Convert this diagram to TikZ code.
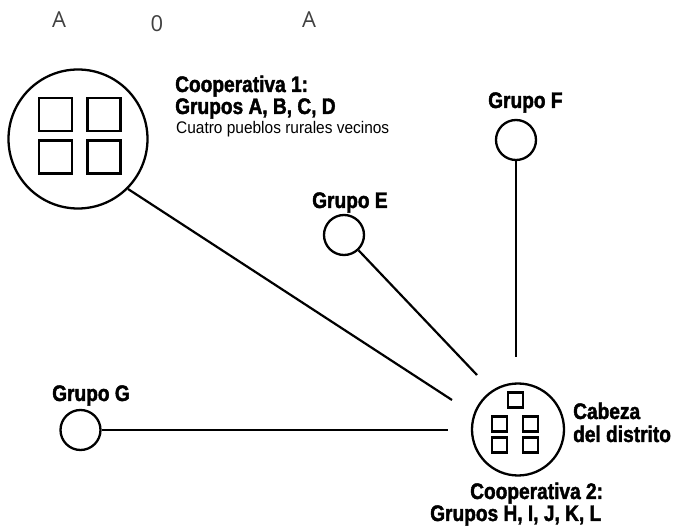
\documentclass[tikz,border=0pt]{standalone}
\usepackage{fontspec}
\setmainfont{Liberation Sans}
\newfontfamily\hb[FakeStretch=0.85,FakeBold=1.8]{Liberation Sans}
\newfontfamily\hr[FakeStretch=0.92]{Liberation Sans}
\newfontfamily\thin{Open Sans}
\usetikzlibrary{calc}
\begin{document}
\begin{tikzpicture}[x=1pt,y=-1pt,
  ring/.style={circle,draw,line width=2.3pt,inner sep=0pt},
  sq/.style={rectangle,draw,line width=2.4pt,inner sep=0pt},
  conn/.style={line width=2.2pt},
  heavy/.style={inner sep=0pt,anchor=base west,font=\hb\bfseries\fontsize{22.5}{24}\selectfont},
  light/.style={inner sep=0pt,anchor=base west,font=\hr\fontsize{16.8}{20}\selectfont},
  top/.style={inner sep=0pt,anchor=base,text=black!75,font=\thin\fontsize{22}{26}\selectfont}]
\useasboundingbox (0,0) rectangle (673,529);
% top letters
\node[top] (ta) at (59,28) {A};
\node[top] (tz) at (157,32) {0};
\node[top] (tb) at (309,28) {A};
% Cooperativa 1
\node[ring,minimum size=139pt] (coop1) at (78,139) {};
\node[sq,minimum size=33pt] (q1) at (55.5,114.5) {};
\node[sq,minimum size=33pt] (q2) at (104,114.5) {};
\node[sq,minimum size=33pt] (q3) at (55.5,157) {};
\node[sq,minimum size=33pt] (q4) at (104,157) {};
\node[heavy] (t1) at (175,92) {Cooperativa 1:};
\node[heavy] (t2) at (175,114) {Grupos A, B, C, D};
\node[light] (t3) at (176,134) {Cuatro pueblos rurales vecinos};
% groups
\node[ring,minimum size=40pt] (F) at (516,140) {};
\node[heavy] (tF) at (488,108) {Grupo F};
\node[ring,minimum size=40pt] (E) at (344,235) {};
\node[heavy] (tE) at (312,208) {Grupo E};
\node[ring,minimum size=40pt] (G) at (80.5,430) {};
\node[heavy] (tG) at (52,401) {Grupo G};
% district head
\node[ring,minimum size=92pt] (cab) at (518,429.5) {};
\node[sq,minimum size=15pt] (r1) at (515.5,400) {};
\node[sq,minimum size=15pt] (r2) at (499.5,424) {};
\node[sq,minimum size=15pt] (r3) at (530.5,424) {};
\node[sq,minimum size=15pt] (r4) at (499.5,445) {};
\node[sq,minimum size=15pt] (r5) at (530.5,445) {};
\node[heavy] (tc1) at (573,419) {Cabeza};
\node[heavy] (tc2) at (573,442) {del distrito};
\node[heavy] (tk1) at (470,499) {Cooperativa 2:};
\node[heavy] (tk2) at (430,521) {Grupos H, I, J, K, L};
% connector ends
\coordinate (e1) at (452,400);
\coordinate (e2) at (477,375);
\coordinate (e3) at (516,357);
\coordinate (e4) at (448,430);
\draw[conn] (coop1.-45) -- (e1);
\draw[conn] (E) -- (e2);
\draw[conn] (F) -- (e3);
\draw[conn] (G) -- (e4);
\end{tikzpicture}
\end{document}
